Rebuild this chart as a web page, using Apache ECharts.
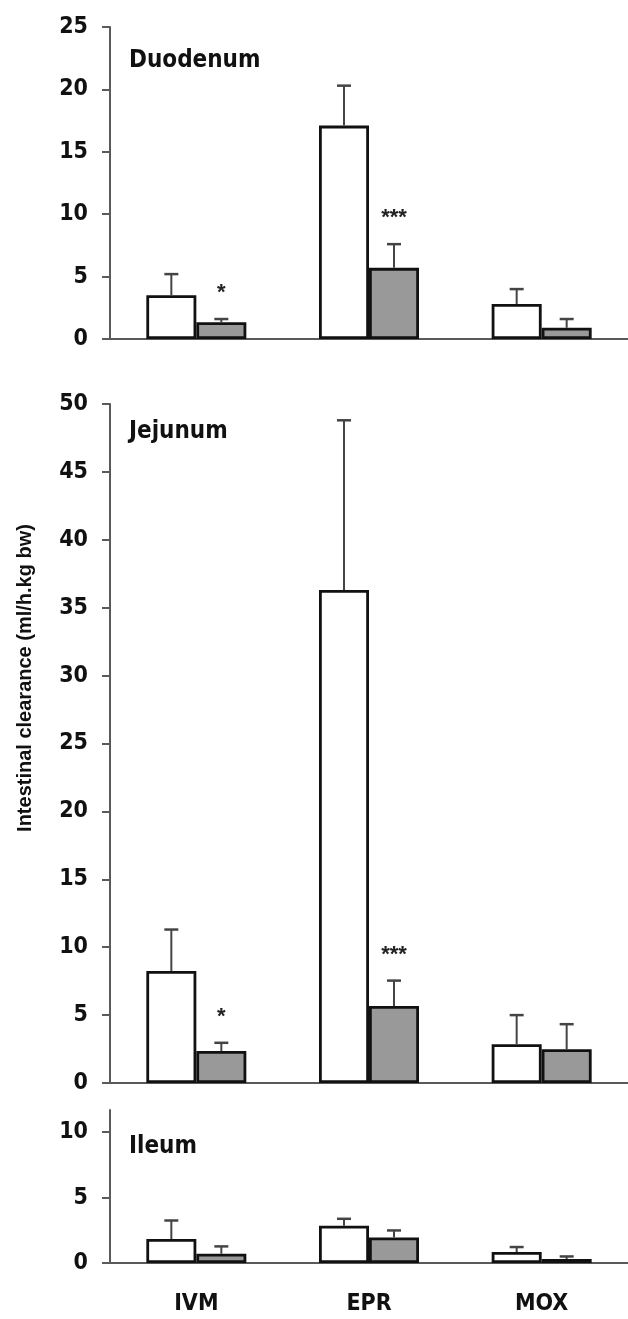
<!DOCTYPE html>
<html>
<head>
<meta charset="utf-8">
<script src="https://cdn.jsdelivr.net/npm/echarts@6/dist/echarts.min.js"></script>
<style>
  html, body { margin: 0; padding: 0; background: #fff; }
  #chart { width: 628px; height: 1319px; }
</style>
</head>
<body>
<div id="chart"></div>
<script>
const categories = ["IVM", "EPR", "MOX"];

// Duodenum
const duoCtrl = [3.5, 17.1, 2.8];
const duoCtrlSem = [1.7, 3.2, 1.2];
const duoTreat = [1.35, 5.7, 0.9];
const duoTreatSem = [0.25, 1.9, 0.7];
const duoStars = ["*", "***", ""];

// Jejunum
const jejCtrl = [8.25, 36.3, 2.85];
const jejCtrlSem = [3.05, 12.5, 2.15];
const jejTreat = [2.36, 5.67, 2.48];
const jejTreatSem = [0.6, 1.87, 1.85];
const jejStars = ["*", "***", ""];

// Ileum
const ileCtrl = [1.83, 2.85, 0.84];
const ileCtrlSem = [1.42, 0.53, 0.38];
const ileTreat = [0.71, 1.95, 0.3];
const ileTreatSem = [0.56, 0.54, 0.2];

const panelNames = ["Duodenum", "Jejunum", "Ileum"];
const yTicksIleum = [0, 5, 10];

const FONT = "'Liberation Sans', Arial, sans-serif";
const NARROW = "'Liberation Sans Narrow', 'Arial Narrow', 'DejaVu Sans Condensed', sans-serif";
const BAR_W = 50;
const AXIS_COLOR = "#5a5a5a";

const chart = echarts.init(document.getElementById("chart"));

function errorSeries(gridIdx, values, sems, side, stars) {
  return {
    type: "custom",
    xAxisIndex: gridIdx,
    yAxisIndex: gridIdx,
    z: 5,
    silent: true,
    data: values.map((v, i) => [i, v, sems[i]]),
    renderItem: (params, api) => {
      const cat = api.value(0);
      const v = api.value(1);
      const e = api.value(2);
      const base = api.coord([cat, v]);
      const top = api.coord([cat, v + e]);
      const x = base[0] + side * BAR_W / 2;
      const children = [
        { type: "line", shape: { x1: x, y1: base[1], x2: x, y2: top[1] }, style: { stroke: "#444", lineWidth: 2 } },
        { type: "line", shape: { x1: x - 7, y1: top[1], x2: x + 7, y2: top[1] }, style: { stroke: "#444", lineWidth: 2.5 } },
      ];
      const s = stars ? stars[params.dataIndex] : "";
      if (s) {
        children.push({
          type: "text",
          style: {
            text: s, x: x, y: top[1] - 26,
            font: "bold 22px " + FONT, fill: "#222",
            align: "center", verticalAlign: "middle",
          },
        });
      }
      return { type: "group", children };
    },
  };
}

function barSeries(gridIdx, values, fill) {
  return {
    type: "bar",
    xAxisIndex: gridIdx,
    yAxisIndex: gridIdx,
    data: values,
    barWidth: BAR_W,
    barGap: "0%",
    itemStyle: { color: fill, borderColor: "#111", borderWidth: 2.8 },
    silent: true,
  };
}

const grids = [
  { left: 110, width: 521, top: 27, height: 312 },
  { left: 110, width: 521, top: 404, height: 679 },
  { left: 110, width: 521, top: 1110, height: 153 },
];

const yMax = [25, 50, 11.7];

const option = {
  animation: false,
  backgroundColor: "#fff",
  grid: grids,
  xAxis: grids.map((g, i) => ({
    type: "category",
    gridIndex: i,
    data: categories,
    axisLine: { lineStyle: { color: AXIS_COLOR, width: 2 } },
    axisTick: { show: false },
    axisLabel: {
      show: i === 2,
      margin: 30,
      fontFamily: NARROW,
      fontWeight: "bold",
      fontSize: 23,
      color: "#111",
    },
  })),
  yAxis: grids.map((g, i) => {
    const ax = {
      type: "value",
      gridIndex: i,
      min: 0,
      max: yMax[i],
      interval: 5,
      splitLine: { show: false },
      axisLine: { show: true, lineStyle: { color: AXIS_COLOR, width: 2 } },
      axisTick: { show: true, length: 8, lineStyle: { color: AXIS_COLOR, width: 2 } },
      axisLabel: {
        margin: 22,
        fontFamily: NARROW,
        fontWeight: "bold",
        fontSize: 23,
        color: "#111",
      },
    };
    if (i === 2) {
      ax.axisTick.customValues = yTicksIleum;
      ax.axisLabel.customValues = yTicksIleum;
    }
    return ax;
  }),
  title: [
    { text: panelNames[0], left: 129, top: 49 },
    { text: panelNames[1], left: 129, top: 420 },
    { text: panelNames[2], left: 129, top: 1135 },
  ].map((t) => ({
    ...t,
    textStyle: { fontFamily: NARROW, fontWeight: "bold", fontSize: 24, color: "#111" },
    padding: 0,
  })),
  graphic: [
    {
      type: "text",
      x: 25,
      y: 678,
      rotation: Math.PI / 2,
      style: {
        text: "Intestinal clearance (ml/h.kg bw)",
        font: "bold 20px " + FONT,
        fill: "#111",
        align: "center",
        verticalAlign: "middle",
      },
    },
  ],
  series: [
    barSeries(0, duoCtrl, "#ffffff"),
    barSeries(0, duoTreat, "#999999"),
    errorSeries(0, duoCtrl, duoCtrlSem, -1, null),
    errorSeries(0, duoTreat, duoTreatSem, 1, duoStars),

    barSeries(1, jejCtrl, "#ffffff"),
    barSeries(1, jejTreat, "#999999"),
    errorSeries(1, jejCtrl, jejCtrlSem, -1, null),
    errorSeries(1, jejTreat, jejTreatSem, 1, jejStars),

    barSeries(2, ileCtrl, "#ffffff"),
    barSeries(2, ileTreat, "#999999"),
    errorSeries(2, ileCtrl, ileCtrlSem, -1, null),
    errorSeries(2, ileTreat, ileTreatSem, 1, null),
  ],
};

chart.setOption(option);
window.addEventListener("resize", () => chart.resize());
</script>
</body>
</html>
